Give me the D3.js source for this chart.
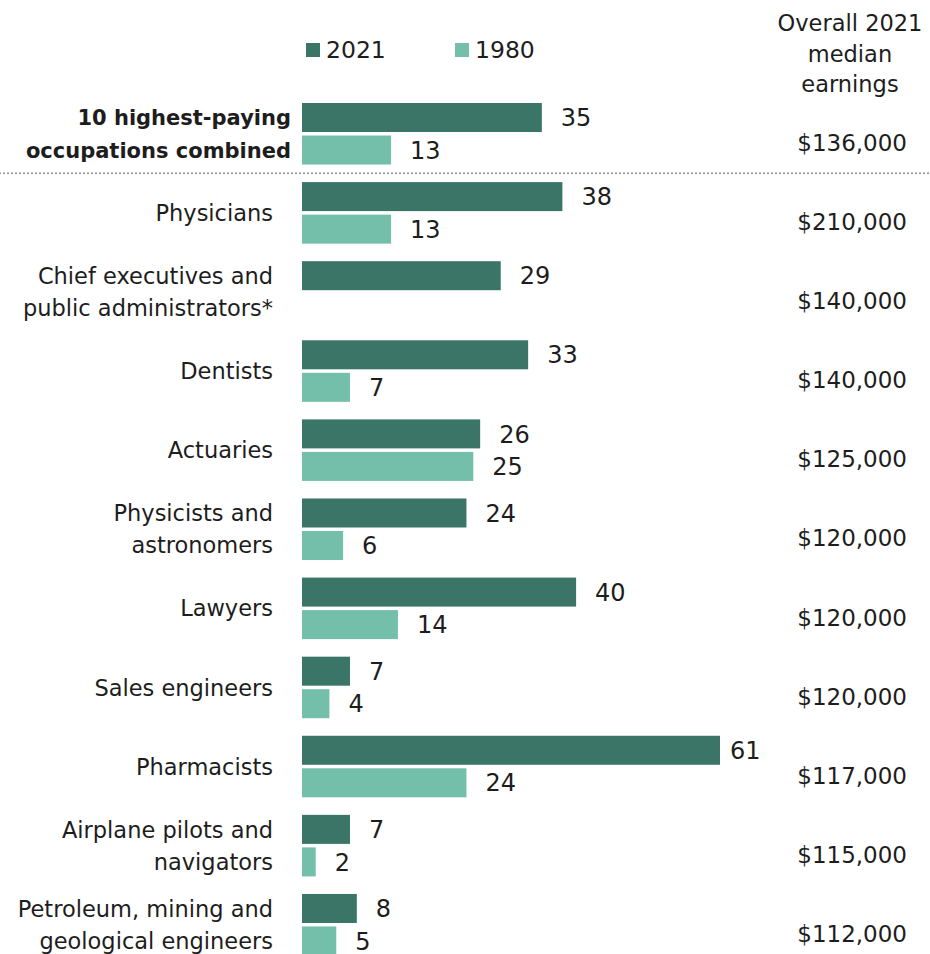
<!DOCTYPE html>
<html>
<head>
<meta charset="utf-8">
<script src="https://cdn.jsdelivr.net/npm/d3@7/dist/d3.min.js"></script>
<style>
  html, body { margin: 0; padding: 0; background: #fff; }
  svg { display: block; }
  text { fill: #1d1d1d; font-family: "DejaVu Sans", sans-serif; }
</style>
</head>
<body>
<script>
// Occupation groups; "\n" marks a line break in the label
const categories = [
  "10 highest-paying\noccupations combined",
  "Physicians",
  "Chief executives and\npublic administrators*",
  "Dentists",
  "Actuaries",
  "Physicists and\nastronomers",
  "Lawyers",
  "Sales engineers",
  "Pharmacists",
  "Airplane pilots and\nnavigators",
  "Petroleum, mining and\ngeological engineers"
];
const series = ["2021", "1980"];
const values2021 = [35, 38, 29, 33, 26, 24, 40, 7, 61, 7, 8];
const values1980 = [13, 13, null, 7, 25, 6, 14, 4, 24, 2, 5];
const medianEarnings = [136000, 210000, 140000, 140000, 125000, 120000, 120000, 120000, 117000, 115000, 112000];
const headerLines = ["Overall 2021", "median", "earnings"];

const W = 930, H = 954;
const colors = { "2021": "#3a7567", "1980": "#74bfaa" };

const svg = d3.select("body").append("svg").attr("width", W).attr("height", H);

const rows = categories.map((c, i) => ({
  cat: c, i,
  vals: [{ s: "2021", v: values2021[i] }, { s: "1980", v: values1980[i] }],
  earn: medianEarnings[i]
}));

const y = d3.scaleBand().domain(d3.range(categories.length))
  .range([103, 955.5]).paddingInner(0.222).paddingOuter(0);
const ySub = d3.scaleBand().domain(series)
  .range([0, y.bandwidth()]).paddingInner(0.108);
const x = d3.scaleLinear().domain([0, 61]).range([302, 720]);
const fmt = d3.format("$,");

// Legend
const legend = svg.append("g");
const legendX = { "2021": 306, "1980": 455 };
series.forEach(s => {
  legend.append("rect").attr("x", legendX[s]).attr("y", 43)
    .attr("width", 14).attr("height", 14).attr("fill", colors[s]);
  legend.append("text").attr("x", legendX[s] + 20).attr("y", 58)
    .attr("font-size", 23.5).text(s);
});

// Right-hand column header
svg.append("g").selectAll("text").data(headerLines).join("text")
  .attr("x", 850).attr("y", (d, i) => 31 + i * 30.5)
  .attr("text-anchor", "middle").attr("font-size", 22.5).text(d => d);

// Dotted separator below the combined group
const sepY = (y(0) + y.bandwidth() + y(1)) / 2;
svg.append("line").attr("x1", 0).attr("x2", W).attr("y1", sepY).attr("y2", sepY)
  .attr("stroke", "#8c8c8c").attr("stroke-width", 2)
  .attr("stroke-linecap", "round").attr("stroke-dasharray", "0,4");

const g = svg.append("g").selectAll("g").data(rows).join("g")
  .attr("transform", d => `translate(0,${y(d.i)})`);

// Bars
g.selectAll("rect").data(d => d.vals.filter(v => v.v != null)).join("rect")
  .attr("x", x(0)).attr("y", d => ySub(d.s))
  .attr("width", d => x(d.v) - x(0)).attr("height", ySub.bandwidth())
  .attr("fill", d => colors[d.s]);

// Value labels (kept clear of the earnings column)
g.selectAll("text.val").data(d => d.vals.filter(v => v.v != null)).join("text")
  .attr("class", "val")
  .attr("x", d => Math.min(x(d.v) + 19, 730))
  .attr("y", d => ySub(d.s) + ySub.bandwidth() / 2)
  .attr("dy", "0.36em").attr("font-size", 24).text(d => d.v);

// Category labels
g.each(function (d) {
  const lines = d.cat.split("\n");
  const sel = d3.select(this);
  if (d.i === 0) {
    lines.forEach((ln, k) => {
      sel.append("text").attr("x", 291)
        .attr("y", ySub(series[k]) + ySub.bandwidth() / 2).attr("dy", "0.36em")
        .attr("text-anchor", "end")
        .attr("font-weight", "bold").attr("font-size", 21)
        .text(ln);
    });
  } else {
    const mid = y.bandwidth() / 2;
    const step = 32;
    lines.forEach((ln, k) => {
      sel.append("text").attr("x", 273)
        .attr("y", mid + (k - (lines.length - 1) / 2) * step).attr("dy", "0.36em")
        .attr("text-anchor", "end").attr("font-size", 22.5).text(ln);
    });
  }
});

// Median earnings column
g.append("text").attr("x", 907).attr("y", 48)
  .attr("text-anchor", "end").attr("font-size", 23).text(d => fmt(d.earn));
</script>
</body>
</html>
